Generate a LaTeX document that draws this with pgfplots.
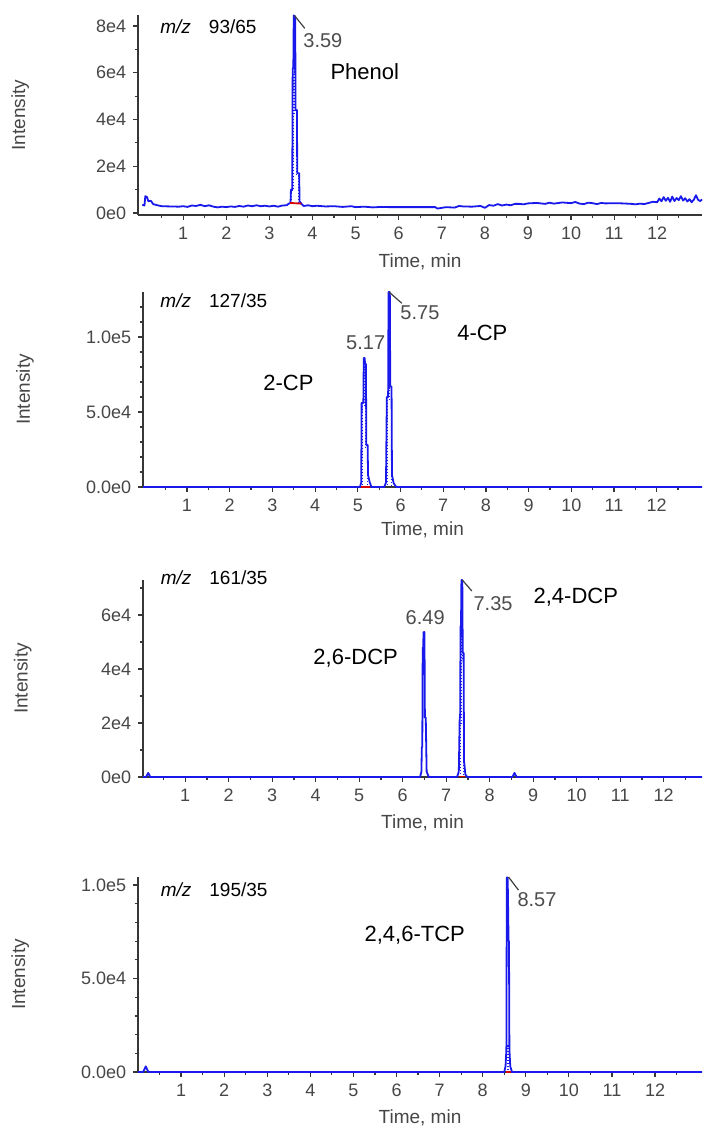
\documentclass[border=0pt]{standalone}
\usepackage{fontspec}
\setmainfont{Liberation Sans}
\usepackage{pgfplots}
\pgfplotsset{compat=1.18}
\definecolor{trace}{RGB}{25,25,235}
\definecolor{axisgray}{RGB}{55,55,55}
\definecolor{labgray}{RGB}{70,70,70}
\pgfplotsset{chrom/.style={
  anchor=south west, scale only axis,
  axis lines=left, axis line style={-, axisgray, line width=0.75pt},
  xtick={1,...,12}, minor xtick={0.5,1.5,...,12.5},
  scaled y ticks=false, scaled x ticks=false,
  tick align=outside, major tick length=2.4pt, minor tick length=1.6pt,
  every tick/.style={axisgray, line width=0.6pt},
  tick label style={font=\fontsize{9}{10}\selectfont, text=labgray},
  /pgf/number format/assume math mode=true,
  xlabel={Time, min}, ylabel={Intensity},
  label style={font=\fontsize{9.5}{11}\selectfont, text=labgray},
  clip=false,
}}
\tikzset{
tr/.style={trace, line width=0.9pt, line join=round},
dt/.style={trace, line width=0.5pt, densely dotted},
rb/.style={red!85!black, line width=0.9pt},
ld/.style={black!75, line width=0.6pt},
rt/.style={anchor=west, inner sep=0pt, font=\fontsize{10}{11}\selectfont, text=black!70},
cp/.style={anchor=west, inner sep=0pt, font=\fontsize{11}{12}\selectfont},
mz/.style={anchor=west, inner sep=0pt, font=\fontsize{9.5}{11}\selectfont},
}
\begin{document}
\begin{tikzpicture}
\useasboundingbox (0,0) rectangle (351.5pt,564.5pt);

% ---------------- Panel 1: Phenol ----------------
\begin{axis}[chrom, at={(69pt,457pt)}, width=282pt, height=100pt,
  xmin=-0.05, xmax=13.04, ymin=-856, ymax=84700,
  ytick={0,20000,40000,60000,80000}, yticklabels={0e0,2e4,4e4,6e4,8e4},
  minor ytick={10000,30000,50000,70000},
  xlabel style={at={(axis description cs:0.5,-0.235)}, anchor=center},
  ylabel style={at={(axis description cs:-0.209,0.5)}, anchor=center}]
\addplot[tr] coordinates {
(0.05,3500)(0.1,3200)(0.12,7200)(0.16,6800)(0.19,5000)(0.25,5200)(0.3,3800)(0.4,3300)
(0.5,2900)(0.7,2800)(0.9,2700)(1.0,2900)(1.1,2600)(1.2,3200)(1.3,3000)(1.4,3500)
(1.5,2900)(1.6,3300)(1.7,2700)(1.8,2400)(1.9,2700)(2.0,2500)(2.1,2800)(2.2,2600)
(2.3,3000)(2.4,2700)(2.5,3200)(2.6,2900)(2.7,3300)(2.8,2900)(2.9,3100)(3.0,2800)
(3.1,3100)(3.2,2700)(3.3,3200)(3.4,3300)(3.45,4000)(3.49,4300)
(3.50,10000)(3.53,10000)(3.54,62000)(3.555,62000)(3.565,84500)(3.60,84000)
(3.605,44000)(3.64,44000)(3.645,17000)(3.69,17000)(3.70,5000)(3.74,4000)(3.78,3200)
(3.8,3000)(3.9,3300)(4.0,2900)(4.1,3100)(4.3,2800)(4.5,2900)(4.7,2600)(4.9,2900)
(5.0,2500)(5.2,2700)(5.4,2400)(5.6,2600)(5.8,2500)(6.0,2500)(6.3,2500)(6.6,2500)
(6.85,2500)(6.9,1900)(7.0,2200)(7.1,2500)(7.3,2300)(7.4,3000)(7.5,2800)(7.7,2700)
(7.9,3000)(8.0,2200)(8.1,3400)(8.2,3100)(8.3,3800)(8.4,3200)(8.5,3600)(8.6,3300)
(8.7,3900)(8.8,3900)(8.9,3700)(9.0,4100)(9.2,4300)(9.4,3900)(9.5,4400)(9.6,4000)
(9.8,4500)(10.0,4200)(10.1,4700)(10.2,4000)(10.3,3800)(10.4,4400)(10.5,4200)(10.6,3800)
(10.7,4300)(10.8,4100)(11.0,4200)(11.2,4100)(11.4,3900)(11.5,3700)(11.6,4000)(11.7,3800)
(11.8,4300)(11.9,4800)(12.0,4600)(12.05,6200)(12.1,5000)(12.15,6800)(12.2,5200)(12.25,6500)
(12.3,4800)(12.35,7000)(12.4,5100)(12.45,6400)(12.5,5500)(12.55,7200)(12.6,5300)(12.65,6300)
(12.7,4900)(12.75,5900)(12.8,4600)(12.85,5700)(12.9,7600)(12.95,5600)(13.0,5100)(13.04,5800)};
\addplot[dt] coordinates {(3.52,4300)(3.52,9500)(3.555,9500)(3.555,60000)(3.575,60000)(3.575,80000)(3.59,80000)(3.59,42000)(3.625,42000)(3.625,16000)(3.675,16000)(3.675,4300)};
\addplot[rb] coordinates {(3.48,4300)(3.74,4000)};
\addplot[ld] coordinates {(3.58,84500)(3.82,79000)};
\node[mz] at (axis cs:0.46,79600) {\textit{m/z}\hspace{9pt}93/65};
\node[rt] at (axis cs:3.78,73600) {3.59};
\node[cp] at (axis cs:4.41,60300) {Phenol};
\end{axis}

% ---------------- Panel 2: CP ----------------
\begin{axis}[chrom, at={(71.5pt,321pt)}, width=279.5pt, height=97.5pt,
  xmin=-0.03, xmax=13.06, ymin=0, ymax=130000,
  ytick={0,50000,100000}, yticklabels={0.0e0,5.0e4,1.0e5},
  minor ytick={10000,20000,30000,40000,60000,70000,80000,90000,110000,120000},
  xlabel style={at={(axis description cs:0.5,-0.22)}, anchor=center},
  ylabel style={at={(axis description cs:-0.211,0.5)}, anchor=center}]
\addplot[tr] coordinates {
(-0.03,0)(5.05,0)(5.08,3000)(5.09,56000)(5.13,56000)(5.14,86000)(5.16,86000)(5.17,82000)
(5.19,82000)(5.20,28000)(5.23,28000)(5.24,8000)(5.28,3000)(5.32,0)
(5.62,0)(5.66,3000)(5.68,60000)(5.71,60000)(5.72,130000)(5.75,130000)(5.76,67000)
(5.79,67000)(5.80,8000)(5.84,2500)(5.9,0)(13.06,0)};
\addplot[dt] coordinates {(5.11,1000)(5.11,54000)(5.15,54000)(5.15,80000)(5.18,80000)(5.18,26000)(5.22,26000)(5.22,1000)};
\addplot[dt] coordinates {(5.70,1000)(5.70,58000)(5.735,58000)(5.735,125000)(5.745,125000)(5.745,65000)(5.78,65000)(5.78,1000)};
\addplot[rb] coordinates {(5.08,200)(5.28,200)};
\addplot[ld] coordinates {(5.73,130000)(6.03,122500)};
\node[mz] at (axis cs:0.37,124000) {\textit{m/z}\hspace{9pt}127/35};
\node[rt] at (axis cs:5.99,116000) {5.75};
\node[rt] at (axis cs:4.72,96000) {5.17};
\node[cp] at (axis cs:7.32,102700) {4-CP};
\node[cp] at (axis cs:2.78,69300) {2-CP};
\end{axis}

% ---------------- Panel 3: DCP ----------------
\begin{axis}[chrom, at={(71.5pt,176pt)}, width=279.5pt, height=98.5pt,
  xmin=0.03, xmax=12.88, ymin=0, ymax=73000,
  ytick={0,20000,40000,60000}, yticklabels={0e0,2e4,4e4,6e4},
  minor ytick={10000,30000,50000,70000},
  xlabel style={at={(axis description cs:0.5,-0.233)}, anchor=center},
  ylabel style={at={(axis description cs:-0.215,0.5)}, anchor=center}]
\addplot[tr] coordinates {
(0.03,0)(0.1,0)(0.15,1500)(0.2,0)
(6.40,0)(6.43,2000)(6.44,11000)(6.45,11000)(6.46,48000)(6.47,48000)(6.48,53700)(6.50,53700)
(6.51,22000)(6.53,22000)(6.55,2000)(6.6,0)
(7.25,0)(7.29,2000)(7.31,22000)(7.32,22000)(7.33,56000)(7.34,56000)(7.35,73000)(7.37,73000)
(7.38,46000)(7.40,46000)(7.41,6000)(7.44,1000)(7.48,0)
(8.52,0)(8.57,1500)(8.62,0)(12.88,0)};
\addplot[dt] coordinates {(7.33,1000)(7.33,20000)(7.345,20000)(7.345,54000)(7.36,54000)(7.36,70000)(7.365,70000)(7.365,44000)(7.39,44000)(7.39,1000)};
\addplot[rb] coordinates {(7.29,200)(7.44,200)};
\addplot[ld] coordinates {(7.37,73000)(7.59,68900)};
\node[mz] at (axis cs:0.43,74000) {\textit{m/z}\hspace{9pt}161/35};
\node[rt] at (axis cs:6.06,58900) {6.49};
\node[rt] at (axis cs:7.62,64400) {7.35};
\node[cp] at (axis cs:9.0,66700) {2,4-DCP};
\node[cp] at (axis cs:3.94,44100) {2,6-DCP};
\end{axis}

% ---------------- Panel 4: TCP ----------------
\begin{axis}[chrom, at={(69pt,28.5pt)}, width=282pt, height=97.5pt,
  xmin=0, xmax=13.09, ymin=0, ymax=104300,
  ytick={0,50000,100000}, yticklabels={0.0e0,5.0e4,1.0e5},
  minor ytick={10000,20000,30000,40000,60000,70000,80000,90000},
  xlabel style={at={(axis description cs:0.5,-0.236)}, anchor=center},
  ylabel style={at={(axis description cs:-0.209,0.5)}, anchor=center}]
\addplot[tr] coordinates {
(0,0)(0.12,0)(0.18,3000)(0.24,0)
(8.50,0)(8.53,3000)(8.55,12000)(8.56,104000)(8.58,104000)(8.59,88000)(8.60,70000)(8.61,70000)
(8.62,12000)(8.64,3000)(8.68,0)(13.09,0)};
\addplot[dt] coordinates {(8.565,1000)(8.565,14000)(8.575,14000)(8.575,1000)};
\addplot[dt] coordinates {(8.595,1000)(8.595,14000)(8.605,14000)(8.605,1000)};
\addplot[rb] coordinates {(8.53,200)(8.66,200)};
\addplot[ld] coordinates {(8.60,104300)(8.83,97300)};
\node[mz] at (axis cs:0.52,97300) {\textit{m/z}\hspace{9pt}195/35};
\node[rt] at (axis cs:8.80,92000) {8.57};
\node[cp] at (axis cs:5.25,73300) {2,4,6-TCP};
\end{axis}
\end{tikzpicture}
\end{document}
